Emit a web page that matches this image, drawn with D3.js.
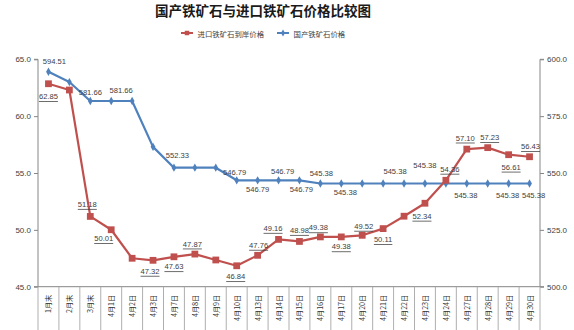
<!DOCTYPE html>
<html>
<head>
<meta charset="utf-8">
<script src="https://cdn.jsdelivr.net/npm/d3@7/dist/d3.min.js"></script>
<style>
  html, body { margin: 0; padding: 0; background: #fff; }
  svg { display: block; }
  text { font-family: "Liberation Sans", Arial, "Noto Sans CJK SC", sans-serif; }
  .cjk { font-family: "Noto Sans CJK SC", sans-serif; }
</style>
</head>
<body>
<svg id="chart" width="574" height="330"></svg>
<script>
// Categories (dates)
const categories = ["1月末", "2月末", "3月末", "4月1日", "4月2日", "4月3日", "4月7日", "4月8日",
  "4月9日", "4月10日", "4月13日", "4月14日", "4月15日", "4月16日", "4月17日", "4月20日",
  "4月21日", "4月22日", "4月23日", "4月24日", "4月27日", "4月28日", "4月29日", "4月30日"];

// 进口铁矿石到岸价格 (left axis)
const importPrice = [62.85, 62.30, 51.18, 50.01, 47.50, 47.32, 47.63, 47.87,
  47.35, 46.84, 47.76, 49.16, 48.98, 49.38, 49.38, 49.52,
  50.11, 51.20, 52.34, 54.36, 57.10, 57.23, 56.61, 56.43];

// 国产铁矿石价格 (right axis)
const domesticPrice = [594.51, 590.00, 581.66, 581.66, 581.66, 561.50, 552.33, 552.33,
  552.33, 546.79, 546.79, 546.79, 546.79, 545.38, 545.38, 545.38,
  545.38, 545.38, 545.38, 545.38, 545.38, 545.38, 545.38, 545.38];

const leftTicks = [45, 50, 55, 60, 65];
const rightTicks = [500, 525, 550, 575, 600];

const seriesNames = ["进口铁矿石到岸价格", "国产铁矿石价格"];
const titleText = "国产铁矿石与进口铁矿石价格比较图";

// Which points carry a value label, and where the label sits relative to the point
const importLabels = [
  {i: 0, dx: 0, dy: 13}, {i: 2, dx: -3, dy: -12}, {i: 3, dx: -7.5, dy: 9},
  {i: 5, dx: -3, dy: 11}, {i: 6, dx: 0, dy: 10}, {i: 7, dx: -2.5, dy: -10},
  {i: 9, dx: -1, dy: 11}, {i: 10, dx: 1, dy: -10}, {i: 11, dx: -5.5, dy: -11},
  {i: 12, dx: 0, dy: -11}, {i: 13, dx: -2, dy: -9}, {i: 14, dx: 0, dy: 10},
  {i: 15, dx: 1.5, dy: -9}, {i: 16, dx: 0, dy: 11}, {i: 18, dx: -3, dy: 13},
  {i: 19, dx: 4, dy: -11}, {i: 20, dx: -1.5, dy: -11}, {i: 21, dx: 2, dy: -10},
  {i: 22, dx: 2.5, dy: 12.5}, {i: 23, dx: 1, dy: -10}
];
const domesticLabels = [
  {i: 0, dx: 6, dy: -10}, {i: 2, dx: 0, dy: -9}, {i: 3, dx: 10, dy: -11},
  {i: 6, dx: 3.5, dy: -12}, {i: 9, dx: -2, dy: -8}, {i: 10, dx: 0, dy: 9},
  {i: 11, dx: 4, dy: -9}, {i: 12, dx: 2, dy: 9}, {i: 13, dx: 1, dy: -10},
  {i: 14, dx: 4, dy: 9}, {i: 17, dx: -9, dy: -12}, {i: 18, dx: 0, dy: -18},
  {i: 20, dx: -1, dy: 12}, {i: 22, dx: -1, dy: 12}, {i: 23, dx: 4, dy: 12}
];

const RED = "#C0504D", BLUE = "#4F81BD", AXIS = "#868686", TXT = "#404040";

const svg = d3.select("#chart");
const plot = {left: 38, right: 540, top: 59.3, bottom: 286.7};

const x = d3.scaleBand().domain(categories).range([plot.left, plot.right]);
const yL = d3.scaleLinear().domain([45, 65]).range([plot.bottom, plot.top]);
const yR = d3.scaleLinear().domain([500, 600]).range([plot.bottom, plot.top]);
const cx = c => x(c) + x.bandwidth() / 2;

// Title
svg.append("text").attr("class", "cjk")
  .attr("x", 263).attr("y", 10).attr("text-anchor", "middle")
  .attr("dominant-baseline", "central")
  .attr("font-size", 13.5).attr("font-weight", "bold").attr("fill", "#1a1a1a")
  .text(titleText);

// Legend
const legend = svg.append("g");
const legItems = [
  {name: seriesNames[0], color: RED, x0: 181, marker: "square"},
  {name: seriesNames[1], color: BLUE, x0: 277, marker: "diamond"}
];
legItems.forEach(it => {
  const g = legend.append("g");
  g.append("line").attr("x1", it.x0).attr("x2", it.x0 + 12).attr("y1", 33).attr("y2", 33)
    .attr("stroke", it.color).attr("stroke-width", 2);
  g.append("path")
    .attr("d", d3.symbol().type(it.marker === "square" ? d3.symbolSquare : d3.symbolDiamond)
      .size(it.marker === "square" ? 20 : 14)())
    .attr("transform", `translate(${it.x0 + 6},33)`).attr("fill", it.color);
  g.append("text").attr("class", "cjk").attr("x", it.x0 + 16.5).attr("y", 33)
    .attr("dominant-baseline", "central").attr("font-size", 7.4).attr("fill", TXT)
    .text(it.name);
});

// Left axis
const axL = svg.append("g").attr("transform", `translate(${plot.left},0)`)
  .call(d3.axisLeft(yL).tickValues(leftTicks).tickFormat(d3.format(".1f")).tickSize(4).tickPadding(3));
axL.select(".domain").attr("stroke", AXIS).attr("d", `M-4,${plot.top}H0V${plot.bottom}H-4`);
axL.selectAll(".tick line").attr("stroke", AXIS);
axL.selectAll(".tick text").attr("fill", TXT).attr("font-size", 8)
  .attr("font-family", "Liberation Sans, Arial, sans-serif");

// Right axis
const axR = svg.append("g").attr("transform", `translate(${plot.right},0)`)
  .call(d3.axisRight(yR).tickValues(rightTicks).tickFormat(d3.format(".1f")).tickSize(4).tickPadding(3));
axR.select(".domain").attr("stroke", AXIS).attr("d", `M4,${plot.top}H0V${plot.bottom}H4`);
axR.selectAll(".tick line").attr("stroke", AXIS);
axR.selectAll(".tick text").attr("fill", TXT).attr("font-size", 8)
  .attr("font-family", "Liberation Sans, Arial, sans-serif");

// Category axis: baseline, cell separators and rotated labels
const axX = svg.append("g");
axX.append("line").attr("x1", plot.left).attr("x2", plot.right)
  .attr("y1", plot.bottom).attr("y2", plot.bottom).attr("stroke", AXIS);
const bounds = categories.map(c => x(c)).concat([x.range()[1]]);
axX.selectAll("line.sep").data(bounds).join("line").attr("class", "sep")
  .attr("x1", d => d).attr("x2", d => d)
  .attr("y1", plot.bottom).attr("y2", 330).attr("stroke", "#a6a6a6").attr("stroke-width", 0.9);
axX.selectAll("text.cat").data(categories).join("text").attr("class", "cat cjk")
  .attr("transform", d => `translate(${cx(d)},${plot.bottom + 8}) rotate(-90)`)
  .attr("text-anchor", "end").attr("dominant-baseline", "central")
  .attr("font-size", 7.2).attr("fill", "#333")
  .text(d => d);

// Domestic series (right axis)
const lineR = d3.line().x((d, i) => cx(categories[i])).y(d => yR(d));
svg.append("path").datum(domesticPrice).attr("d", lineR)
  .attr("fill", "none").attr("stroke", BLUE).attr("stroke-width", 2.2).attr("stroke-linejoin", "round");
svg.append("g").selectAll("path").data(domesticPrice).join("path")
  .attr("d", d3.symbol().type(d3.symbolDiamond).size(20)())
  .attr("transform", (d, i) => `translate(${cx(categories[i])},${yR(d)})`)
  .attr("fill", BLUE);

// Import series (left axis)
const lineL = d3.line().x((d, i) => cx(categories[i])).y(d => yL(d));
svg.append("path").datum(importPrice).attr("d", lineL)
  .attr("fill", "none").attr("stroke", RED).attr("stroke-width", 2.2).attr("stroke-linejoin", "round");
svg.append("g").selectAll("path").data(importPrice).join("path")
  .attr("d", d3.symbol().type(d3.symbolSquare).size(46)())
  .attr("transform", (d, i) => `translate(${cx(categories[i])},${yL(d)})`)
  .attr("fill", RED);

// Value labels
const fmt = d3.format(".2f");
svg.append("g").selectAll("text").data(domesticLabels).join("text")
  .attr("x", d => cx(categories[d.i]) + d.dx)
  .attr("y", d => yR(domesticPrice[d.i]) + d.dy)
  .attr("text-anchor", "middle").attr("dominant-baseline", "central")
  .attr("font-size", 7.6).attr("fill", TXT)
  .text(d => fmt(domesticPrice[d.i]));
svg.append("g").selectAll("text").data(importLabels).join("text")
  .attr("x", d => cx(categories[d.i]) + d.dx)
  .attr("y", d => yL(importPrice[d.i]) + d.dy)
  .attr("text-anchor", "middle").attr("dominant-baseline", "central")
  .attr("font-size", 7.6).attr("fill", TXT)
  .style("text-decoration", "underline")
  .text(d => fmt(importPrice[d.i]));
</script>
</body>
</html>
